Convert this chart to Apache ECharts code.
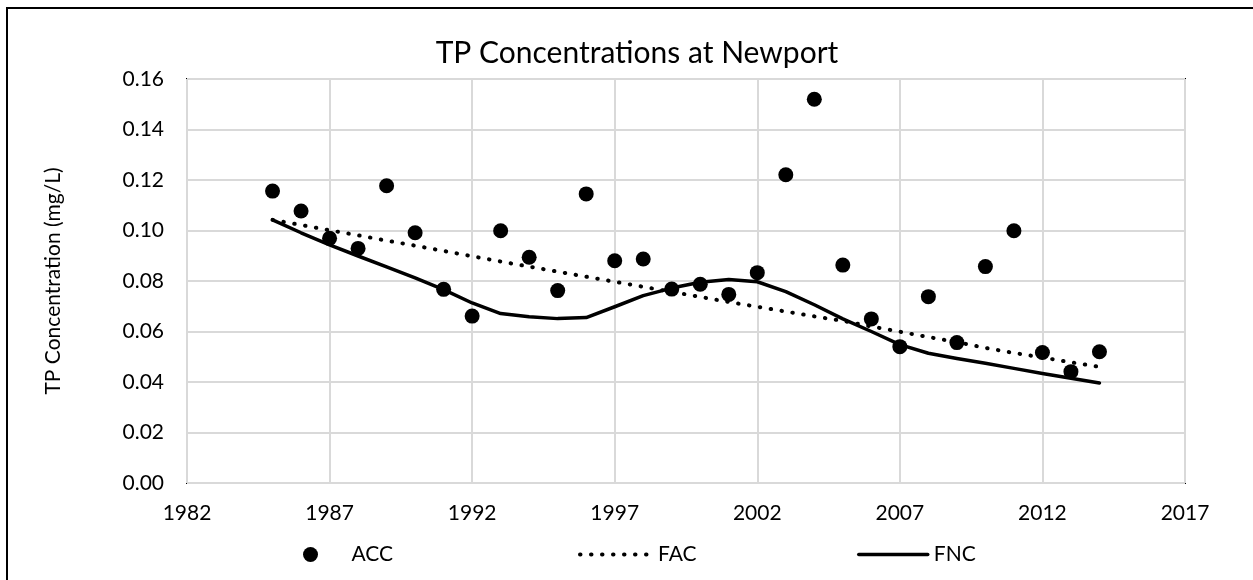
<!DOCTYPE html>
<html>
<head>
<meta charset="utf-8">
<script src="https://cdn.jsdelivr.net/npm/echarts@6/dist/echarts.min.js"></script>
<style>
  html, body { margin: 0; padding: 0; background: #fff; }
  #chart { width: 1253px; height: 580px; }
</style>
</head>
<body>
<div id="chart"></div>
<script>
// Sampling years
const years = [1985, 1986, 1987, 1988, 1989, 1990, 1991, 1992, 1993, 1994,
               1995, 1996, 1997, 1998, 1999, 2000, 2001, 2002, 2003, 2004,
               2005, 2006, 2007, 2008, 2009, 2010, 2011, 2012, 2013, 2014];

// Annual TP concentrations (mg/L)
const acc = [0.1156, 0.1077, 0.0969, 0.0929, 0.1177, 0.0991, 0.0767, 0.0661, 0.0999, 0.0894,
             0.0762, 0.1145, 0.0880, 0.0887, 0.0768, 0.0787, 0.0747, 0.0833, 0.1221, 0.1520,
             0.0863, 0.0650, 0.0540, 0.0738, 0.0556, 0.0857, 0.0999, 0.0517, 0.0441, 0.0520];

// Flow-adjusted trend
const fac = [0.1042, 0.1022, 0.1001, 0.0981, 0.0960, 0.0940, 0.0919, 0.0898, 0.0877, 0.0857,
             0.0837, 0.0817, 0.0797, 0.0777, 0.0757, 0.0737, 0.0717, 0.0698, 0.0679, 0.0660,
             0.0642, 0.0620, 0.0599, 0.0578, 0.0558, 0.0535, 0.0515, 0.0497, 0.0478, 0.0460];

// Flow-normalized concentration
const fnc = [0.1042, 0.0991, 0.0943, 0.0899, 0.0856, 0.0812, 0.0766, 0.0713, 0.0671, 0.0658,
             0.0651, 0.0655, 0.0698, 0.0742, 0.0772, 0.0795, 0.0806, 0.0797, 0.0758, 0.0706,
             0.0650, 0.0600, 0.0548, 0.0514, 0.0493, 0.0474, 0.0454, 0.0434, 0.0415, 0.0396];

const seriesNames = ['ACC', 'FAC', 'FNC'];
const chartTitle = 'TP Concentrations at Newport';
const yAxisTitle = 'TP Concentration (mg/L)';

const pairs = vals => years.map((y, i) => [y, vals[i]]);
const FONT = 'Lato';

const chart = echarts.init(document.getElementById('chart'), null, { renderer: 'canvas' });

const legendText = { fontFamily: FONT, fontSize: 21, color: '#000' };
const dottedStyle = { color: '#000', width: 4, type: [0.5, 10.5], cap: 'round' };
const solidStyle = { color: '#000', width: 3.5, cap: 'round', join: 'round' };

chart.setOption({
  backgroundColor: '#fff',
  animation: false,
  title: {
    text: chartTitle,
    left: 632,
    textAlign: 'center',
    top: 33,
    textStyle: { fontFamily: FONT, fontSize: 30, fontWeight: 'normal', color: '#000' }
  },
  graphic: [{
    type: 'rect',
    shape: { x: 7, y: 8, width: 1400, height: 800 },
    style: { fill: 'none', stroke: '#000', lineWidth: 2 },
    silent: true
  }],
  legend: [
    {
      data: [seriesNames[0]], left: 298, top: 539,
      icon: 'circle', itemWidth: 66, itemHeight: 15,
      textStyle: Object.assign({ padding: [0, 0, 0, 3] }, legendText)
    },
    {
      // line-only key: hide the marker that line series add to their icon
      data: [seriesNames[1]], left: 573, top: 539,
      itemWidth: 67, itemHeight: 15,
      itemStyle: { opacity: 0 },
      lineStyle: { width: 4, type: [0.5, 10.5], cap: 'round', color: '#000' },
      textStyle: Object.assign({ padding: [0, 0, 0, 6] }, legendText)
    },
    {
      data: [seriesNames[2]], left: 852, top: 539,
      itemWidth: 69, itemHeight: 15,
      itemStyle: { opacity: 0 },
      lineStyle: { width: 3.5, cap: 'round', color: '#000' },
      textStyle: Object.assign({ padding: [0, 0, 0, 1] }, legendText)
    }
  ],
  grid: {
    left: 187, right: 68, top: 79, bottom: 97,
    show: true, borderColor: '#000', borderWidth: 2, backgroundColor: 'transparent'
  },
  xAxis: {
    type: 'value', min: 1982, max: 2017, interval: 5,
    axisLine: { show: false },
    axisTick: { show: false },
    splitLine: { show: true, lineStyle: { color: '#d9d9d9', width: 2 } },
    axisLabel: {
      fontFamily: FONT, fontSize: 21, color: '#000', margin: 20,
      formatter: v => String(v)
    }
  },
  yAxis: {
    type: 'value', min: 0, max: 0.16, interval: 0.02,
    name: yAxisTitle,
    nameLocation: 'middle',
    nameGap: 123,
    nameTextStyle: { fontFamily: FONT, fontSize: 21, color: '#000' },
    axisLine: { show: false },
    axisTick: { show: false },
    splitLine: { show: true, lineStyle: { color: '#d9d9d9', width: 2 } },
    axisLabel: {
      fontFamily: FONT, fontSize: 21, color: '#000', margin: 23,
      formatter: v => v.toFixed(2)
    }
  },
  series: [
    {
      name: seriesNames[2], type: 'line', data: pairs(fnc),
      symbol: 'none', showSymbol: false, z: 2,
      lineStyle: solidStyle,
      itemStyle: { color: '#000' }
    },
    {
      name: seriesNames[1], type: 'line', data: pairs(fac),
      symbol: 'none', showSymbol: false, z: 3,
      lineStyle: dottedStyle,
      itemStyle: { color: '#000' }
    },
    {
      name: seriesNames[0], type: 'scatter', data: pairs(acc),
      symbol: 'circle', symbolSize: 15, z: 4,
      itemStyle: { color: '#000', opacity: 1 }
    }
  ]
});
</script>
</body>
</html>
